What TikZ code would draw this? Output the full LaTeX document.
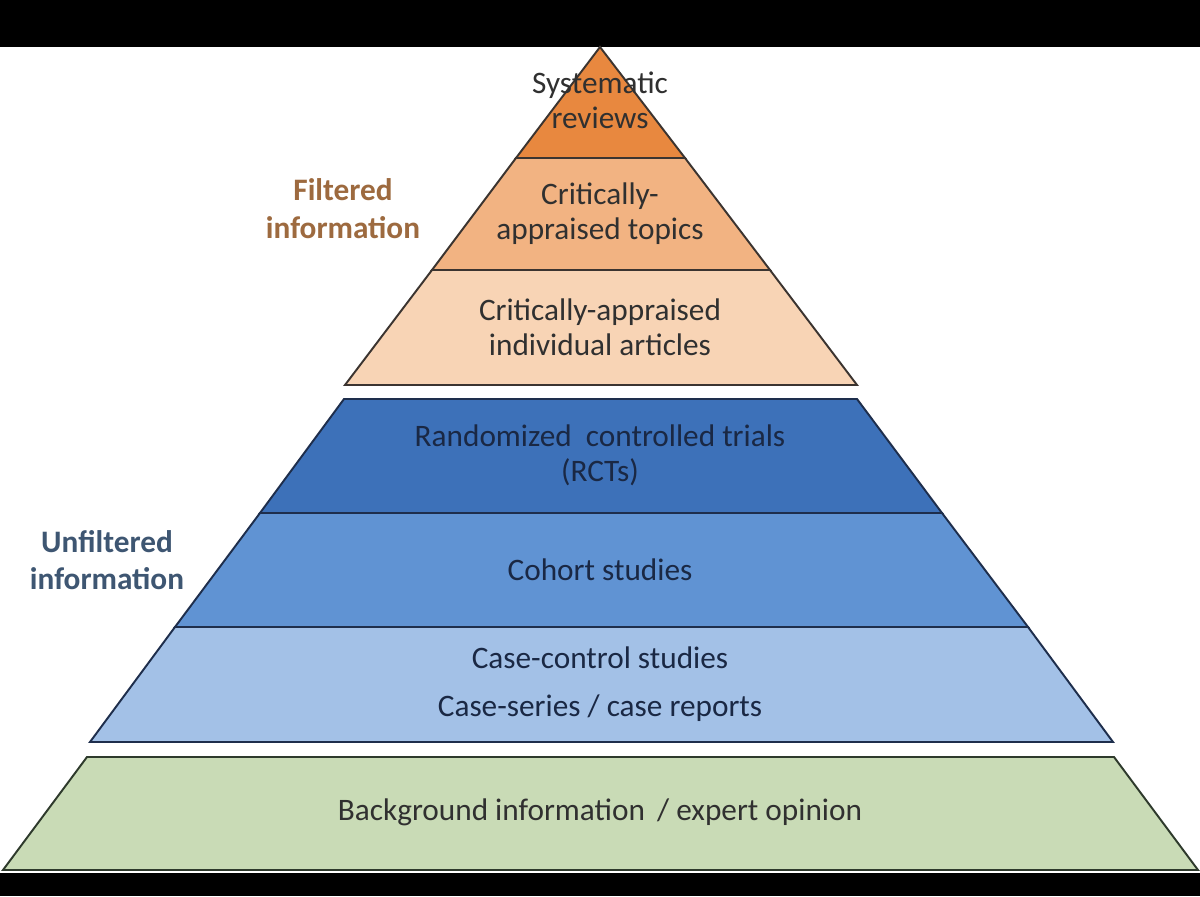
\documentclass[tikz,border=0pt]{standalone}
\usepackage{fontspec}
\setmainfont{Carlito}
\definecolor{sysorange}{HTML}{E8883F}
\definecolor{topicorange}{HTML}{F2B382}
\definecolor{articlepeach}{HTML}{F8D4B5}
\definecolor{rctblue}{HTML}{3D71B9}
\definecolor{cohortblue}{HTML}{6093D3}
\definecolor{caseblue}{HTML}{A3C1E7}
\definecolor{bggreen}{HTML}{C9DBB6}
\definecolor{orangeline}{HTML}{3B3430}
\definecolor{blueline}{HTML}{1E2E4C}
\definecolor{greenline}{HTML}{2E3A2C}
\definecolor{warmtext}{HTML}{303030}
\definecolor{navytext}{HTML}{1A2844}
\definecolor{filteredcol}{HTML}{9D6A3F}
\definecolor{unfilteredcol}{HTML}{3E5672}
\tikzset{
  tier/.style={draw=#1,line width=1.1pt,line join=miter},
  tiertext/.style={
    font=\fontsize{17.8}{20}\selectfont,
    align=center,inner sep=0pt
  },
  sidelabel/.style={
    font=\bfseries\fontsize{17.8}{21.5}\selectfont,
    align=center,inner sep=0pt
  }
}

\begin{document}
\begin{tikzpicture}[x=0.02cm,y=-0.02cm]
\useasboundingbox (0,0) rectangle (1200,896);
\fill[white] (0,0) rectangle (1200,896);
\fill[black] (0,0) rectangle (1200,47);
\fill[black] (0,873) rectangle (1200,896);

% filtered part
\filldraw[tier=orangeline,fill=sysorange] (600,47) -- (685,158) -- (516,158) -- cycle;
\filldraw[tier=orangeline,fill=topicorange] (516,158) -- (685,158) -- (770,270) -- (432,270) -- cycle;
\filldraw[tier=orangeline,fill=articlepeach] (432,270) -- (770,270) -- (857,385) -- (345,385) -- cycle;

% unfiltered part
\filldraw[tier=blueline,fill=rctblue] (344,399) -- (857,399) -- (942,513) -- (260,513) -- cycle;
\filldraw[tier=blueline,fill=cohortblue] (260,513) -- (942,513) -- (1028,627) -- (175,627) -- cycle;
\filldraw[tier=blueline,fill=caseblue] (175,627) -- (1028,627) -- (1113,742) -- (90,742) -- cycle;

% background
\filldraw[tier=greenline,fill=bggreen] (87,757) -- (1114,757) -- (1198,870) -- (3,870) -- cycle;

\node[tiertext,text=warmtext] (sysrev) at (600,100) {Systematic\\reviews};
\node[tiertext,text=warmtext] (topics) at (600,214) {Critically-\\appraised topics};
\node[tiertext,text=warmtext] (articles) at (600,327) {Critically-appraised\\individual articles};
\node[tiertext,text=navytext] (rcts) at (600,455) {Randomized\ \ controlled trials\\(RCTs)};
\node[tiertext,text=navytext] (cohort) at (600,570) {Cohort studies};
\node[tiertext,text=navytext] (casectl) at (600,684) {Case-control studies\\[7pt]Case-series / case reports};
\node[tiertext,text=warmtext] (background) at (600,812) {Background information\ \,/\ expert opinion};

\node[sidelabel,text=filteredcol] (filtered) at (343,209) {Filtered\\information};
\node[sidelabel,text=unfilteredcol] (unfiltered) at (107,560) {Unfiltered\\information};
\end{tikzpicture}
\end{document}
